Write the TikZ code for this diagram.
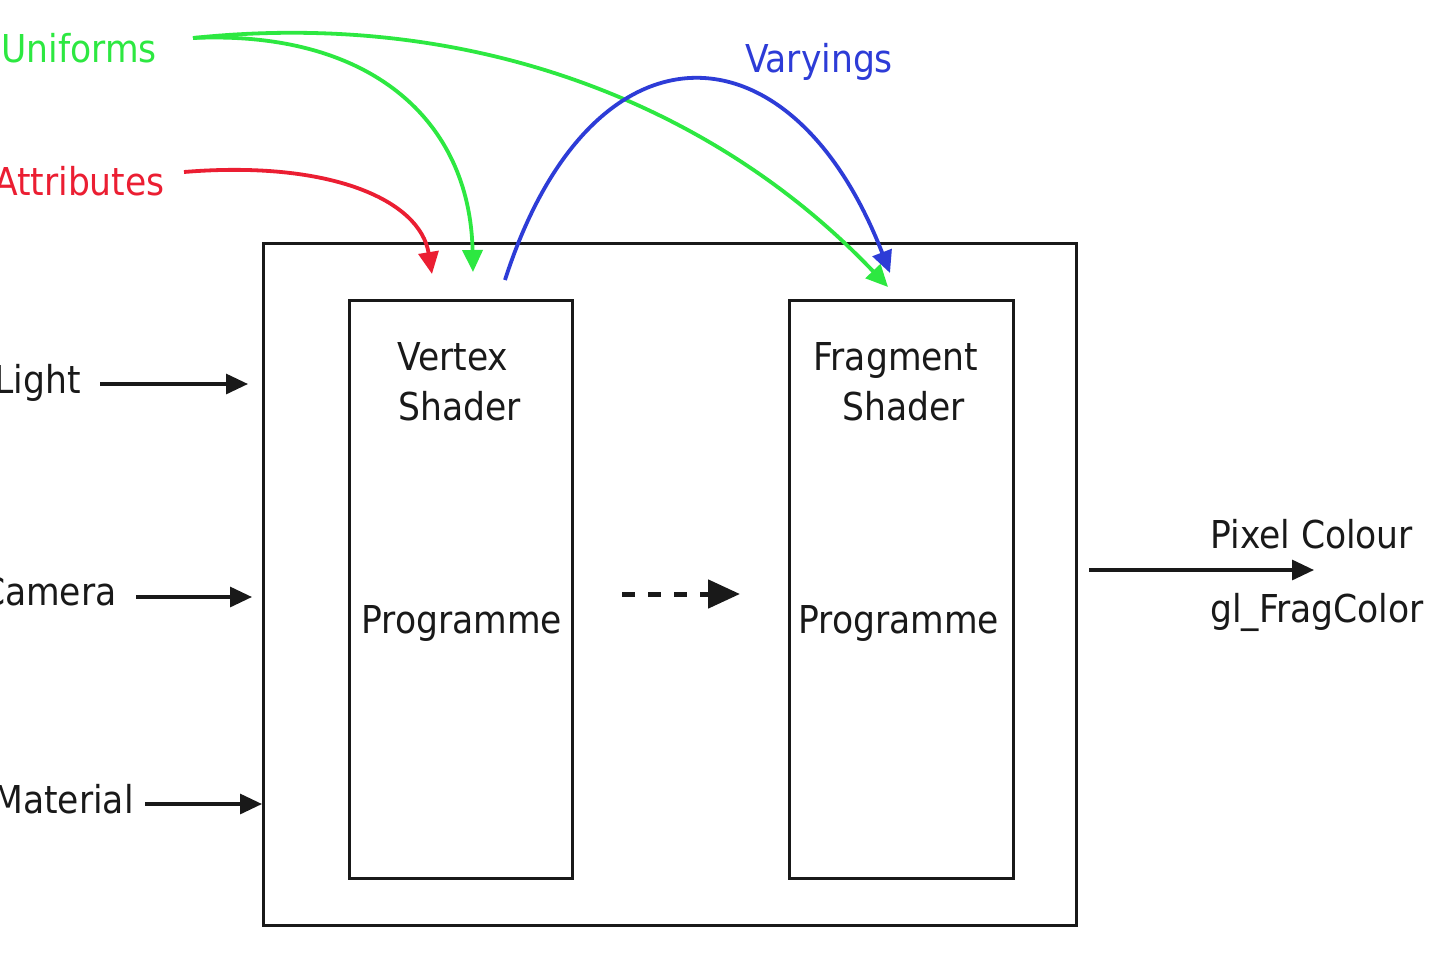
\documentclass[tikz,border=0pt]{standalone}
\usepackage{fontspec}
\setmainfont{DejaVu Sans Condensed}
\usetikzlibrary{arrows.meta}
\definecolor{ugreen}{RGB}{45,232,65}
\definecolor{ared}{RGB}{235,30,50}
\definecolor{vblue}{RGB}{45,60,215}
\definecolor{ink}{RGB}{25,25,25}
\tikzset{
  lbl/.style={inner sep=0pt, font=\fontsize{19.2}{23}\selectfont, text=ink},
  frame/.style={draw=ink, line width=1.5pt, inner sep=0pt},
  blkarrow/.style={draw=ink, line width=1.6pt, -{Triangle[length=11pt,width=10pt]}},
  colarrow/.style={line width=1.9pt, -{Triangle[length=11pt,width=10pt]}},
}
\begin{document}
\begin{tikzpicture}[x=0.5pt,y=-0.5pt]
\useasboundingbox (0,0) rectangle (1441,975);
\fill[white] (0,0) rectangle (1441,975);

% boxes
\node[frame, minimum width=406.5pt, minimum height=341pt] (outer) at (669.5,584) {};
\node[frame, minimum width=111.5pt, minimum height=289pt] (vs) at (460.5,589) {};
\node[frame, minimum width=112pt, minimum height=289pt] (fs) at (901,589) {};

% box texts
\node[lbl, anchor=base] (vt1) at (453,370) {Vertex};
\node[lbl, anchor=base] (vt2) at (460,420) {Shader};
\node[lbl, anchor=base] (vp) at (462,633) {Programme};
\node[lbl, anchor=base] (ft1) at (896,370) {Fragment};
\node[lbl, anchor=base] (ft2) at (904,420) {Shader};
\node[lbl, anchor=base] (fp) at (899,633) {Programme};

% left inputs
\node[lbl, anchor=base east] (light) at (81,393) {Light};
\node[lbl, anchor=base east] (camera) at (117,605) {Camera};
\node[lbl, anchor=base east] (material) at (134,813) {Material};
\coordinate (lightS) at (100,384);
\coordinate (lightE) at (248,384);
\coordinate (camS) at (136,597);
\coordinate (camE) at (252,597);
\coordinate (matS) at (145,804);
\coordinate (matE) at (262,804);
\draw[blkarrow] (lightS) -- (lightE);
\draw[blkarrow] (camS) -- (camE);
\draw[blkarrow] (matS) -- (matE);

% dashed arrow between shaders
\coordinate (dS) at (622,594);
\coordinate (dE) at (740,594);
\draw[draw=ink, line width=2.5pt, dash pattern=on 6.5pt off 6.5pt,
      -{Triangle[length=16pt,width=14pt]}] (dS) -- (dE);

% output
\coordinate (oS) at (1089,570);
\coordinate (oE) at (1314,570);
\draw[blkarrow] (oS) -- (oE);
\node[lbl, anchor=base west] (pix) at (1210,548) {Pixel Colour};
\node[lbl, anchor=base west] (glfc) at (1210,622) {gl\_FragColor};

% top labels
\node[lbl, anchor=base west, text=ugreen] (unif) at (1,62) {Uniforms};
\node[lbl, anchor=base east, text=ared] (attr) at (165,195) {Attributes};
\node[lbl, anchor=base, text=vblue] (vary) at (819,72) {Varyings};

% curves
\coordinate (uS) at (193,38);
\coordinate (uT1) at (473,272);
\coordinate (uT2) at (888,287);
\coordinate (aS) at (184,172);
\coordinate (aT) at (432,274);
\coordinate (vS) at (505,280);
\coordinate (vT) at (890,273);
\draw[colarrow, draw=ugreen] (uS) .. controls (370,30) and (470,120) .. (uT1);
\draw[colarrow, draw=ugreen] (uS) .. controls (480,8) and (720,110) .. (uT2);
\draw[colarrow, draw=ared] (aS) .. controls (330,160) and (420,200) .. (aT);
\draw[colarrow, draw=vblue] (vS) .. controls (590,15) and (790,15) .. (vT);
\end{tikzpicture}
\end{document}
